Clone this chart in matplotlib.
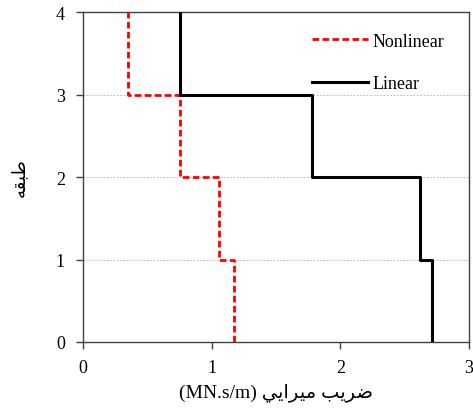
import matplotlib
matplotlib.use("Agg")
import matplotlib.pyplot as plt
import numpy as np

stories = np.array([0, 1, 2, 3, 4])
linear = np.array([2.71, 2.62, 1.78, 0.75])
nonlinear = np.array([1.17, 1.06, 0.75, 0.35])

# Persian labels written in presentation forms (visual order) so they show joined
xlabel = "(MN.s/m) " + "\uFEF2\uFEF3\uFE8D\uFEAE\uFEF4\uFEE3" + " " + "\uFE90\uFEF3\uFEAE\uFEBF"
ylabel = "\uFEEA\uFED8\uFE92\uFEC3"

fam = ["Liberation Serif", "DejaVu Sans"]
plt.rcParams["font.family"] = fam


def steps(vals):
    y = np.repeat(stories, 2)[1:-1]
    x = np.repeat(vals, 2)
    return x, y


fig = plt.figure(figsize=(4.73, 4.14), dpi=100)
ax = fig.add_axes([0.1755, 0.1715, 0.816, 0.797])

xn, yn = steps(nonlinear)
xl, yl = steps(linear)
l1, = ax.plot(xn, yn, color="#ff0000", lw=2.0, dashes=(2.4, 1.2), label="Nonlinear", zorder=3)
l2, = ax.plot(xl, yl, color="black", lw=2.2, label="Linear", zorder=4)

ax.set_xlim(0, 3)
ax.set_ylim(0, 4)
ax.set_xticks([0, 1, 2, 3])
ax.set_yticks([0, 1, 2, 3, 4])
ax.yaxis.grid(True, color="#b0b0b0", ls=(0, (2, 2)), lw=0.6)
ax.set_axisbelow(True)
for s in ax.spines.values():
    s.set_color("#404040")
    s.set_linewidth(1.0)
ax.tick_params(labelsize=13, length=5, width=1, color="#404040")
ax.tick_params(axis="y", pad=8)
ax.tick_params(axis="x", pad=7)

ax.set_xlabel(xlabel, fontsize=14, labelpad=5)
ax.set_ylabel(ylabel, fontsize=13, labelpad=20)

ax.legend(handles=[l1, l2], loc="upper right", frameon=False, fontsize=13,
          handlelength=3.1, handletextpad=0.25, labelspacing=1.4,
          bbox_to_anchor=(0.965, 0.97), borderaxespad=0.2)

fig.savefig("out.png", dpi=100)
